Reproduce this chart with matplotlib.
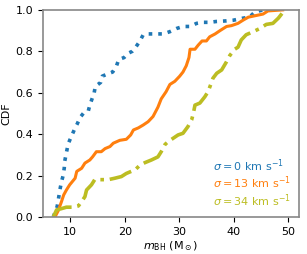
import numpy as np
import matplotlib
matplotlib.use("Agg")
import matplotlib.pyplot as plt

# CDF traces (m_BH in Msun, cumulative fraction)
m_sig0 = [6.9, 7.6, 7.8, 8.1, 8.4, 8.7, 8.9, 9.0, 9.3, 9.6, 9.9, 10.4, 10.9, 11.3,
          11.8, 12.4, 13.3, 13.6, 14.0, 14.4, 14.6, 15.6, 15.9, 16.8, 17.8, 18.5,
          18.9, 19.9, 20.6, 21.4, 21.9, 22.8, 23.4, 24.3, 25.8, 27.1, 28.3, 29.5,
          30.7, 32.0, 33.2, 34.4, 35.6, 36.8, 38.7, 39.9, 41.7, 42.9, 43.9, 45.4]
cdf_sig0 = [0.0, 0.05, 0.08, 0.13, 0.17, 0.20, 0.235, 0.27, 0.31, 0.35, 0.37, 0.40,
            0.43, 0.45, 0.48, 0.50, 0.51, 0.54, 0.57, 0.60, 0.63, 0.65, 0.68, 0.69,
            0.70, 0.73, 0.76, 0.77, 0.79, 0.80, 0.815, 0.85, 0.88, 0.884, 0.884,
            0.884, 0.895, 0.91, 0.92, 0.92, 0.935, 0.94, 0.94, 0.944, 0.947, 0.95,
            0.96, 0.965, 0.99, 1.0]

m_sig13 = [7.2, 7.8, 8.4, 8.8, 9.3, 9.9, 10.9, 11.2, 12.1, 12.7, 13.6, 14.1, 14.8,
           15.7, 16.4, 17.3, 17.9, 19.1, 20.3, 21.1, 21.6, 22.5, 23.4, 24.3, 25.2,
           26.1, 26.7, 27.6, 28.3, 29.2, 30.1, 30.7, 31.3, 31.8, 32.0, 32.9, 33.5,
           34.2, 35.0, 35.6, 36.6, 37.5, 38.7, 39.6, 40.8, 41.7, 42.7, 43.6, 45.4,
           46.3, 49.0]
cdf_sig13 = [0.0, 0.03, 0.074, 0.106, 0.13, 0.155, 0.187, 0.22, 0.235, 0.26, 0.275,
             0.29, 0.315, 0.315, 0.33, 0.34, 0.356, 0.37, 0.375, 0.396, 0.42, 0.43,
             0.444, 0.46, 0.485, 0.53, 0.57, 0.605, 0.64, 0.655, 0.68, 0.70, 0.73,
             0.77, 0.81, 0.81, 0.83, 0.85, 0.85, 0.87, 0.884, 0.90, 0.92, 0.924,
             0.935, 0.95, 0.965, 0.97, 0.98, 0.995, 1.0]

m_sig34 = [6.9, 7.5, 8.4, 9.3, 10.6, 11.5, 12.1, 12.7, 13.0, 13.9, 14.5, 15.4, 17.0,
           18.2, 19.4, 20.3, 21.2, 21.9, 22.8, 23.7, 24.9, 26.1, 26.7, 27.4, 28.0,
           28.9, 29.8, 30.7, 31.6, 32.3, 32.6, 32.9, 33.8, 34.7, 35.3, 35.8, 36.2,
           36.9, 37.8, 38.7, 39.3, 40.2, 40.8, 41.4, 42.3, 43.6, 44.8, 46.0, 47.2,
           48.2, 48.8, 49.4]
cdf_sig34 = [0.0, 0.034, 0.04, 0.047, 0.047, 0.053, 0.074, 0.098, 0.13, 0.155, 0.18,
             0.18, 0.18, 0.187, 0.195, 0.21, 0.22, 0.227, 0.25, 0.262, 0.275, 0.29,
             0.315, 0.35, 0.364, 0.38, 0.396, 0.404, 0.436, 0.47, 0.50, 0.54, 0.55,
             0.58, 0.605, 0.64, 0.67, 0.694, 0.71, 0.75, 0.78, 0.81, 0.82, 0.855,
             0.88, 0.895, 0.91, 0.93, 0.935, 0.96, 0.98, 1.0]

labels = [r"$\sigma = 0$ km s$^{-1}$",
          r"$\sigma = 13$ km s$^{-1}$",
          r"$\sigma = 34$ km s$^{-1}$"]

plt.rcParams["font.size"] = 8

fig, ax = plt.subplots(figsize=(3.07, 2.54), dpi=100)
fig.subplots_adjust(left=0.14, right=0.974, bottom=0.146, top=0.961)

ax.plot(m_sig0, cdf_sig0, ls=":", lw=2.6, color="tab:blue", label=labels[0])
ax.plot(m_sig13, cdf_sig13, ls="-", lw=2.2, color="tab:orange", label=labels[1])
ax.plot(m_sig34, cdf_sig34, ls="-.", lw=2.6, color="tab:olive", label=labels[2])

ax.set_xlim(5, 52)
ax.set_ylim(0, 1)
ax.set_xticks([10, 20, 30, 40, 50])
ax.set_yticks([0.0, 0.2, 0.4, 0.6, 0.8, 1.0])
ax.set_xlabel(r"$m_{\rm BH}$ (M$_\odot$)", labelpad=2)
ax.set_ylabel("CDF", labelpad=3)
for s in ax.spines.values():
    s.set_color("#888888")
    s.set_linewidth(1.2)

leg = ax.legend(loc="lower right", frameon=False, handlelength=0, handletextpad=0,
                labelcolor="linecolor", fontsize=8, borderaxespad=0.3,
                labelspacing=0.1)
for h in leg.legend_handles:
    h.set_visible(False)

fig.savefig("out.png", dpi=100)
